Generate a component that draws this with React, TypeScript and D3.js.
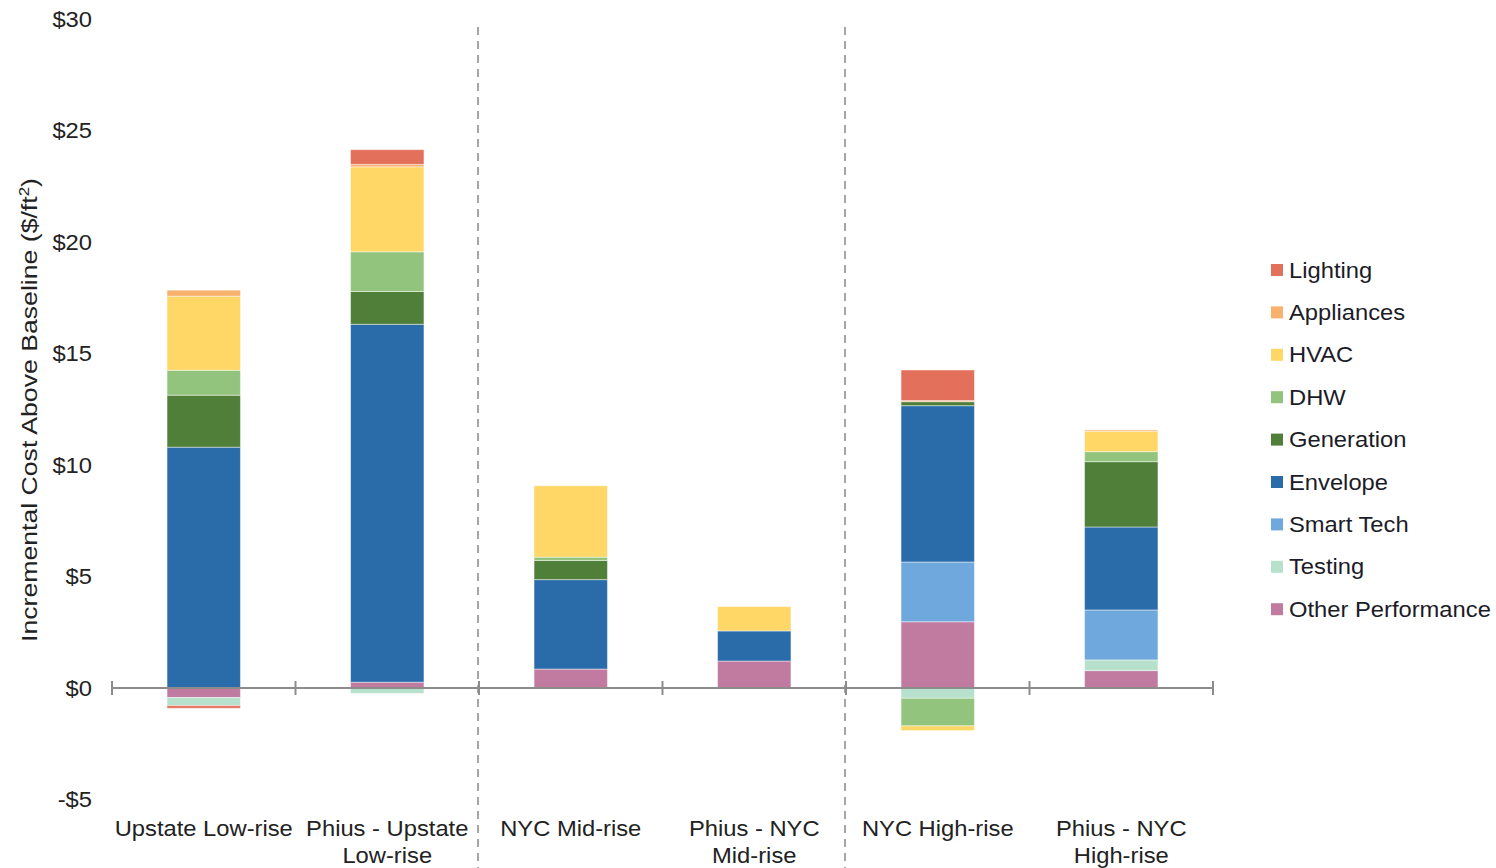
import React from "react";
import * as d3 from "d3";

// Cost categories in stacking order (bottom to top)
const seriesNames = [
  "Other Performance",
  "Testing",
  "Smart Tech",
  "Envelope",
  "Generation",
  "DHW",
  "HVAC",
  "Appliances",
  "Lighting",
];

const seriesColors = [
  "#C27BA0",
  "#B7E1CD",
  "#6FA8DC",
  "#2A6CAA",
  "#507F3A",
  "#93C47D",
  "#FED766",
  "#F9B16E",
  "#E2705A",
];

// Legend order (top to bottom)
const legendOrder = [
  "Lighting",
  "Appliances",
  "HVAC",
  "DHW",
  "Generation",
  "Envelope",
  "Smart Tech",
  "Testing",
  "Other Performance",
];

const categories = [
  ["Upstate Low-rise"],
  ["Phius - Upstate", "Low-rise"],
  ["NYC Mid-rise"],
  ["Phius - NYC", "Mid-rise"],
  ["NYC High-rise"],
  ["Phius - NYC", "High-rise"],
];

// $/ft² per category, one array per series (same order as categories)
const otherPerformance = [-0.43, 0.26, 0.85, 1.21, 2.97, 0.78];
const testing = [-0.36, -0.24, 0, 0, -0.46, 0.48];
const smartTech = [0, 0, 0, 0, 2.68, 2.24];
const envelope = [10.8, 16.05, 4.01, 1.35, 7.01, 3.72];
const generation = [2.33, 1.47, 0.86, 0, 0.18, 2.93];
const dhw = [1.12, 1.78, 0.15, 0, -1.24, 0.45];
const hvac = [3.32, 3.81, 3.2, 1.09, -0.21, 0.91];
const appliances = [0.27, 0.11, 0, 0, 0.05, 0.06];
const lighting = [-0.12, 0.66, 0, 0, 1.37, 0];

const seriesValues = [
  otherPerformance,
  testing,
  smartTech,
  envelope,
  generation,
  dhw,
  hvac,
  appliances,
  lighting,
];

const yTicks = [-5, 0, 5, 10, 15, 20, 25, 30];
const dividerAfter = [1, 3];

const FONT = "'Liberation Sans', Arial, sans-serif";
const STRETCH = 1.08;

// Text drawn with a slight horizontal widening
function WideText(props: {
  x: number;
  y: number;
  anchor?: string;
  size: number;
  fill: string;
  baseline?: string;
  children: React.ReactNode;
}) {
  const { x, y, anchor = "start", size, fill, baseline, children } = props;
  return (
    <text
      transform={`translate(${x},${y}) scale(${STRETCH},1)`}
      textAnchor={anchor}
      dominantBaseline={baseline}
      fontSize={size}
      fill={fill}
    >
      {children}
    </text>
  );
}

export default function App() {
  const width = 1496;
  const height = 868;
  const plotLeft = 112;
  const plotRight = 1213;

  const y = d3.scaleLinear().domain([-5, 30]).range([799.5, 19]);

  const x = d3
    .scaleBand<number>()
    .domain(d3.range(categories.length))
    .range([plotLeft, plotRight])
    .paddingInner(0)
    .paddingOuter(0);
  const bandW = x.bandwidth();
  const barW = bandW * 0.4;

  // Stack positive values upward and negative values downward from zero
  const rects: { x: number; y0: number; y1: number; color: string; key: string }[] = [];
  categories.forEach((_, ci) => {
    let pos = 0;
    let neg = 0;
    seriesValues.forEach((vals, si) => {
      const v = vals[ci];
      if (!v) return;
      let a: number, b: number;
      if (v > 0) {
        a = pos;
        b = pos + v;
        pos = b;
      } else {
        a = neg;
        b = neg + v;
        neg = b;
      }
      rects.push({
        x: (x(ci) as number) + bandW / 2 - barW / 2,
        y0: y(Math.max(a, b)),
        y1: y(Math.min(a, b)),
        color: seriesColors[si],
        key: `${ci}-${si}`,
      });
    });
  });

  const legendY0 = 270;
  const legendStep = 42.4;

  return (
    <svg width={width} height={height} style={{ position: "absolute", left: 0, top: 0 }} fontFamily={FONT}>
      <rect width={width} height={height} fill="#fff" />

      {/* y tick labels */}
      {yTicks.map((t) => (
        <WideText key={t} x={92} y={y(t)} anchor="end" baseline="central" size={22} fill="#222">
          {t < 0 ? `-$${Math.abs(t)}` : `$${t}`}
        </WideText>
      ))}

      {/* y axis title */}
      <text
        transform={`translate(37, 410) rotate(-90)`}
        textAnchor="middle"
        fontSize={22}
        fill="#222"
        textLength={464}
        lengthAdjust="spacingAndGlyphs"
      >
        Incremental Cost Above Baseline ($/ft
        <tspan baselineShift="super" fontSize={14}>2</tspan>)
      </text>

      {/* divider lines between building groups */}
      {dividerAfter.map((i) => {
        const xx = (x(i) as number) + bandW - 1;
        return (
          <line
            key={i}
            x1={xx}
            x2={xx}
            y1={27}
            y2={868}
            stroke="#A6A6A6"
            strokeWidth={2}
            strokeDasharray="8 6"
          />
        );
      })}

      {/* bars */}
      {rects.map((r) => (
        <rect
          key={r.key}
          x={r.x}
          y={r.y0}
          width={barW}
          height={Math.max(0.5, r.y1 - r.y0)}
          fill={r.color}
          stroke="#fff"
          strokeOpacity={0.45}
          strokeWidth={1}
        />
      ))}

      {/* zero axis line and ticks */}
      <line x1={plotLeft} x2={plotRight} y1={y(0)} y2={y(0)} stroke="#8C8C8C" strokeWidth={2} />
      {d3.range(categories.length + 1).map((i) => {
        const tx = plotLeft + i * bandW;
        return (
          <line key={i} x1={tx} x2={tx} y1={y(0) - 7} y2={y(0) + 7} stroke="#8C8C8C" strokeWidth={2} />
        );
      })}

      {/* category labels */}
      {categories.map((lines, i) =>
        lines.map((l, li) => (
          <WideText
            key={`${i}-${li}`}
            x={(x(i) as number) + bandW / 2}
            y={836 + li * 27}
            anchor="middle"
            size={22}
            fill="#222"
          >
            {l}
          </WideText>
        ))
      )}

      {/* legend */}
      {legendOrder.map((name, i) => {
        const si = seriesNames.indexOf(name);
        const cy = legendY0 + i * legendStep;
        return (
          <g key={name}>
            <rect x={1271} y={cy - 6} width={12} height={12} fill={seriesColors[si]} />
            <WideText x={1289} y={cy} baseline="central" size={22} fill="#1C1C28">
              {name}
            </WideText>
          </g>
        );
      })}
    </svg>
  );
}
